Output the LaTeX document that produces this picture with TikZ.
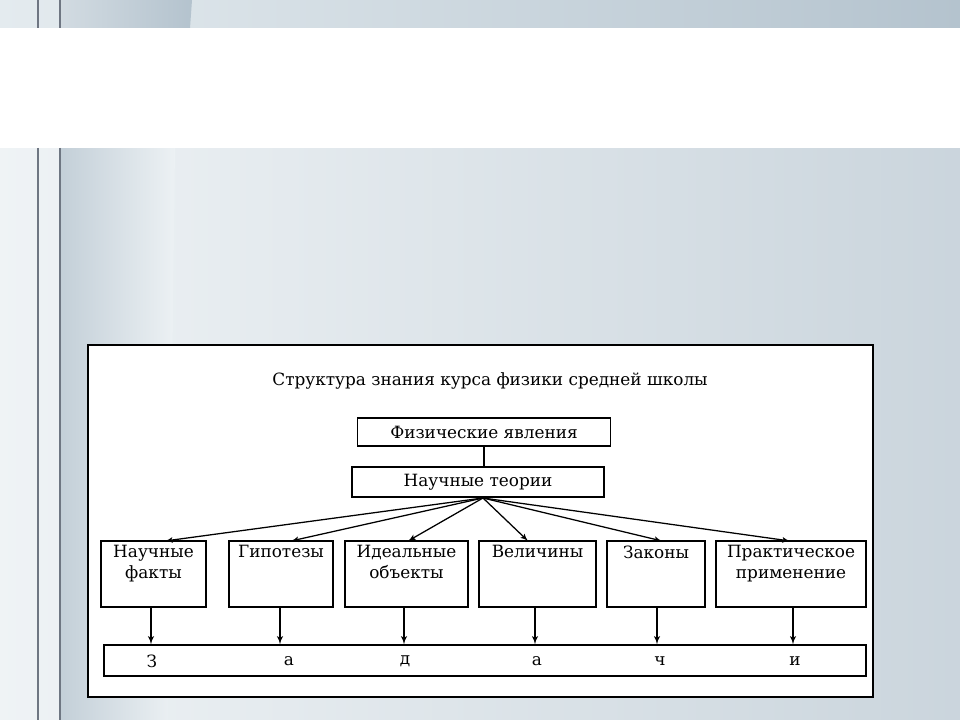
\documentclass[tikz,border=0pt]{standalone}
\usepackage{fontspec}
\setmainfont{DejaVu Serif}
\usetikzlibrary{arrows,positioning,calc}
\definecolor{slidebg}{HTML}{E4EBEF}
\definecolor{slideside}{HTML}{B4C3CE}
\definecolor{slideline}{HTML}{6E7682}
\tikzset{
  blk/.style={draw=black,line width=1pt,fill=white,inner sep=0pt,align=center,font=\fontsize{12}{14}\selectfont},
  lbl/.style={inner sep=0pt,align=center,anchor=north,font=\fontsize{12}{15}\selectfont},
  arr/.style={-latex,line width=0.8pt,>=latex,shorten >=0pt},
  bigtip/.style={arrows={-latex},line width=1pt}
}
\begin{document}
\begin{tikzpicture}[x=0.025cm,y=-0.025cm]
    \useasboundingbox (0,0) rectangle (960,720);
    % slide background
    \shade[left color=slidebg!60,right color=slideside!70] (0,148) rectangle (960,720);
    \shade[left color=slidebg,right color=slideside] (0,0) rectangle (960,28);
    \shade[left color=slideside!80,right color=slidebg!70] (60,148) -- (175,148) -- (168,720) -- (60,720) -- cycle;
    \shade[left color=slideside!60,right color=slideside] (60,0) -- (192,0) -- (190,28) -- (60,28) -- cycle;
    \fill[white] (0,28) rectangle (960,148);
    \foreach \i in {38,60} {
      \draw[slideline,line width=1pt] (\i,0) -- (\i,28);
      \draw[slideline,line width=1pt] (\i,148) -- (\i,720);
    }
    % diagram frame
    \draw[line width=1pt,fill=white] (88,345) rectangle (873,697);
    \node[font=\fontsize{12}{14}\selectfont] (title) at (490,381) {Структура знания курса физики средней школы};
    \node[blk,minimum width=253*0.025cm,minimum height=28*0.025cm] (phen) at (484,432) {Физические явления};
    \node[blk,minimum width=252*0.025cm,minimum height=30*0.025cm] (theo) at (478,482) {Научные теории};
    \draw[line width=0.8pt] (phen.south -| 484,0) -- (theo.north -| 484,0);
    \coordinate (src) at (483,498);
    % second row
    \foreach \n/\x/\w in {facts/153.5/105,hyp/281/104,ideal/406.5/123,quant/537.5/117,laws/656/98,appl/791/150}
      \node[blk,minimum width=\w*0.025cm,minimum height=66*0.025cm] (\n) at (\x,574) {};
    \node[lbl] at ($(facts.north)+(0,5)$) {Научные\\факты};
    \node[lbl] at ($(hyp.north)+(0,5)$) {Гипотезы};
    \node[lbl] at ($(ideal.north)+(0,5)$) {Идеальные\\объекты};
    \node[lbl] at ($(quant.north)+(0,5)$) {Величины};
    \node[lbl] at ($(laws.north)+(0,5)$) {Законы};
    \node[lbl] at ($(appl.north)+(0,5)$) {Практическое\\применение};
    \foreach \x in {165,291,408,528,662,790}
      \draw[arr,arrows={-latex'},line width=0.9pt] (src) -- (\x,541);
    % bottom bar
    \node[blk,minimum width=762*0.025cm,minimum height=31*0.025cm] (task) at (485,660.5) {};
    \foreach \x/\l/\n in {152/З/t1,289/а/t2,405/д/t3,537/а/t4,660/ч/t5,795/и/t6}
      \node[font=\fontsize{12}{14}\selectfont] (\n) at (\x,661) {\l};
    \foreach \b/\x in {facts/151,hyp/280,ideal/404,quant/535,laws/657,appl/793}
      \draw[bigtip,arrows={-latex'}] (\b.south -| \x,0) -- (task.north -| \x,0);
\end{tikzpicture}
\end{document}
